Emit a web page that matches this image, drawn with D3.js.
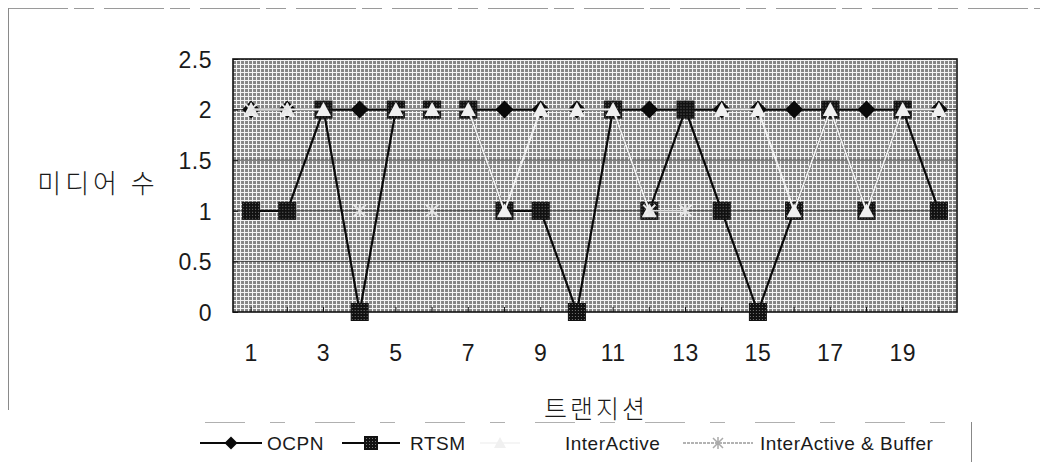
<!DOCTYPE html>
<html><head><meta charset="utf-8">
<script src="https://cdn.jsdelivr.net/npm/d3@7"></script>
<style>
html,body{margin:0;padding:0;background:#fff;}
svg{display:block;}
text{font-family:"Liberation Sans",Arial,sans-serif;fill:#1a1a1a;}
.kr{font-family:"Noto Sans CJK KR","Noto Sans",sans-serif;font-weight:300;}
</style></head><body>
<svg id="c" width="1048" height="464"></svg>
<script>
const categories = d3.range(1, 21);
const xTickLabels = [1,3,5,7,9,11,13,15,17,19];
const yTicks = [0,0.5,1,1.5,2,2.5];
const yTickLabels = ["0","0.5","1","1.5","2","2.5"];
const ocpn = [2,2,2,2,2,2,2,2,2,2,2,2,2,2,2,2,2,2,2,2];
const rtsm = [1,1,2,0,2,2,2,1,1,0,2,1,2,1,0,1,2,1,2,1];
const interActive = [2,2,2,null,2,2,2,1,2,2,2,1,null,2,2,1,2,1,2,2];
const interBuffer = [2,2,null,1,null,1,null,null,null,null,null,1,1,null,null,null,null,null,null,null];
const seriesNames = ["OCPN","RTSM","InterActive","InterActive & Buffer"];
const yTitle = "미디어 수";
const xTitle = "트랜지션";

const svg = d3.select("#c");
const defs = svg.append("defs");
const bg = defs.append("pattern").attr("id","bgpat").attr("patternUnits","userSpaceOnUse").attr("width",4).attr("height",4);
bg.append("rect").attr("width",4).attr("height",4).attr("fill","#858585");
bg.append("path").attr("d","M0,0.5H4M0.5,0V4").attr("stroke","#f4f4f4").attr("stroke-width",1.1);
const sq = defs.append("pattern").attr("id","sqpat").attr("patternUnits","userSpaceOnUse").attr("width",3).attr("height",3);
sq.append("rect").attr("width",3).attr("height",3).attr("fill","#111");
sq.append("rect").attr("x",1).attr("y",1).attr("width",1).attr("height",1).attr("fill","#777");

const L = 233, R = 957, T = 59, B = 312;
const x = d3.scaleBand().domain(categories).range([L, R]);
const cx = d => x(d) + x.bandwidth()/2;
const y = d3.scaleLinear().domain([0, 2.5]).range([B, T]);

// outer chart frame (faint)
svg.append("line").attr("x1",8).attr("x2",1040).attr("y1",8.5).attr("y2",8.5)
  .attr("stroke","#9a9a9a").attr("stroke-dasharray","60,6,20,10").attr("stroke-width",1);
svg.append("line").attr("x1",8.5).attr("x2",8.5).attr("y1",8).attr("y2",410)
  .attr("stroke","#8a8a8a").attr("stroke-width",1);

// plot area
svg.append("rect").attr("x",L).attr("y",T).attr("width",R-L).attr("height",B-T).attr("fill","url(#bgpat)");
svg.append("g").selectAll("line").data(yTicks.filter(v=>v>0 && v<2.5)).join("line")
  .attr("x1",L).attr("x2",R).attr("y1",d=>y(d)).attr("y2",d=>y(d))
  .attr("stroke","#3a3a3a").attr("stroke-width",0.9);
svg.append("rect").attr("x",L).attr("y",T).attr("width",R-L).attr("height",B-T)
  .attr("fill","none").attr("stroke","#111").attr("stroke-width",1.6);

const yAxis = d3.axisLeft(y).tickValues(yTicks).tickSize(-5).tickFormat((d,i)=>yTickLabels[i]).tickPadding(21);
const gy = svg.append("g").attr("transform",`translate(${L},0)`).call(yAxis);
gy.select(".domain").remove();
gy.selectAll("line").attr("stroke","#111");
gy.selectAll("text").attr("font-size",23).attr("font-family","Liberation Sans, Arial, sans-serif").attr("fill","#1a1a1a").attr("dy","0.36em").attr("letter-spacing",0.5);

const xAxis = d3.axisBottom(x).tickValues(categories).tickSize(-5).tickFormat(d => xTickLabels.includes(d) ? d : "").tickPadding(33);
const gx = svg.append("g").attr("transform",`translate(0,${B})`).call(xAxis);
gx.select(".domain").remove();
gx.selectAll("line").attr("stroke","#111");
gx.selectAll("text").attr("font-size",23).attr("font-family","Liberation Sans, Arial, sans-serif").attr("fill","#1a1a1a").attr("letter-spacing",0.5);

svg.append("text").attr("class","kr").attr("x",98).attr("y",193).attr("text-anchor","middle")
  .attr("font-size",26).attr("letter-spacing",4).text(yTitle);
svg.append("text").attr("class","kr").attr("x",596).attr("y",418).attr("text-anchor","middle")
  .attr("font-size",25).attr("letter-spacing",3).text(xTitle);

function diamond(g, s){ g.append("path").attr("d",`M0,${-s}L${s},0L0,${s}L${-s},0Z`).attr("fill","#0a0a0a"); }
function square(g, s){ g.append("rect").attr("x",-s).attr("y",-s).attr("width",2*s).attr("height",2*s).attr("fill","url(#sqpat)").attr("stroke","#111").attr("stroke-width",1); }
function triangle(g, s){ g.append("path").attr("d",`M0,${-s}L${s},${s*0.85}L${-s},${s*0.85}Z`).attr("fill","#f0f0f0"); }
function star(g, s){ g.append("path").attr("d",`M${-s},${-s}L${s},${s}M${-s},${s}L${s},${-s}M0,${-s}V${s}`).attr("stroke","#e6e6e6").attr("stroke-width",2).attr("fill","none"); }

const series = [
  {name:seriesNames[0], vals:ocpn, color:"#0a0a0a", w:2.2, mk:diamond, ms:9},
  {name:seriesNames[1], vals:rtsm, color:"#0a0a0a", w:2.2, mk:square, ms:8.5},
  {name:seriesNames[2], vals:interActive, color:"#f2f2f2", w:2, mk:triangle, ms:7.5},
  {name:seriesNames[3], vals:interBuffer, color:"#d8d8d8", w:1.6, mk:star, ms:6}
];
const line = d3.line().defined(d => d.v != null).x(d => cx(d.c)).y(d => y(d.v));
series.forEach(s => {
  const pts = categories.map((c,i) => ({c, v:s.vals[i]}));
  svg.append("path").datum(pts).attr("d",line).attr("fill","none").attr("stroke",s.color).attr("stroke-width",s.w);
  svg.append("g").selectAll("g").data(pts.filter(p=>p.v!=null)).join("g")
    .attr("transform",p=>`translate(${cx(p.c)},${y(p.v)})`).each(function(){ s.mk(d3.select(this), s.ms); });
});

const lg = svg.append("g");
lg.append("line").attr("x1",205).attr("x2",972).attr("y1",422.5).attr("y2",422.5)
  .attr("stroke","#b0b0b0").attr("stroke-dasharray","40,25,15,30").attr("stroke-width",1);
lg.append("line").attr("x1",971.5).attr("x2",971.5).attr("y1",422).attr("y2",462).attr("stroke","#888").attr("stroke-width",1);
const items = [
  {x1:200, x2:262, tx:267},
  {x1:342, x2:400, tx:410},
  {x1:480, x2:520, tx:565},
  {x1:683, x2:753, tx:760}
];
items.forEach((it,i) => {
  const s = series[i];
  const ly = 443;
  lg.append("line").attr("x1",it.x1).attr("x2",it.x2).attr("y1",ly).attr("y2",ly)
    .attr("stroke", i===3 ? "#9a9a9a" : s.color).attr("stroke-width", i<2 ? 2 : 1.6)
    .attr("stroke-dasharray", i===3 ? "3,1" : null);
  const g = lg.append("g").attr("transform",`translate(${(it.x1+it.x2)/2},${ly})`);
  if (i===0) diamond(g,6.5);
  else if (i===1) square(g,6.5);
  else if (i===2) triangle(g,6);
  else { g.append("path").attr("d","M-5,-5L5,5M-5,5L5,-5M0,-6V6").attr("stroke","#aaa").attr("stroke-width",1.5); }
  lg.append("text").attr("x",it.tx).attr("y",ly).attr("dy","0.36em").attr("font-size",19).attr("letter-spacing",0.5).text(s.name);
});
</script></body></html>
